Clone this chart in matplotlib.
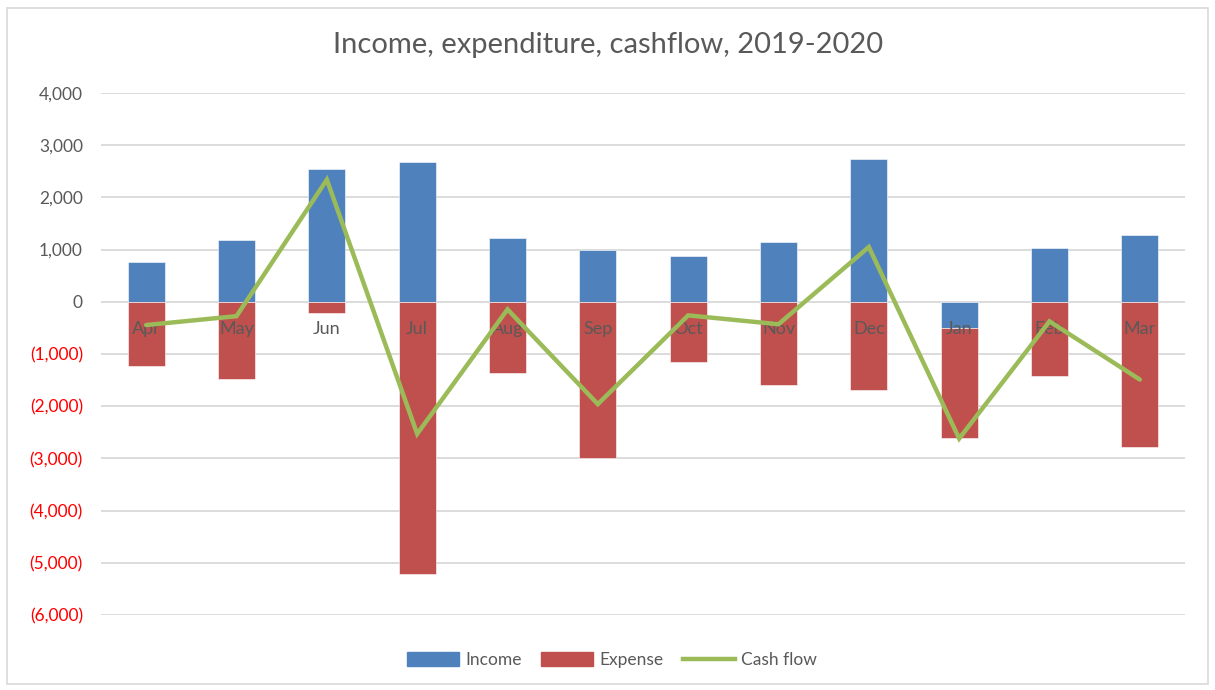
import matplotlib
matplotlib.use("Agg")
import matplotlib.pyplot as plt
import numpy as np
from matplotlib.patches import Patch, Rectangle
from matplotlib.lines import Line2D
from matplotlib.ticker import FuncFormatter, MultipleLocator

months = ["Apr", "May", "Jun", "Jul", "Aug", "Sep", "Oct", "Nov", "Dec", "Jan", "Feb", "Mar"]
income = [770, 1190, 2550, 2680, 1225, 1000, 880, 1150, 2740, -500, 1035, 1280]
expense = [-1225, -1475, -210, -5210, -1360, -2990, -1150, -1590, -1690, -2100, -1420, -2780]
cash_flow = [-445, -275, 2340, -2530, -145, -1960, -260, -430, 1050, -2620, -375, -1490]

C_INC = "#4F81BD"
C_EXP = "#C0504D"
C_CASH = "#9BBB59"
GREY = "#595959"

plt.rcParams["font.family"] = ["Lato", "DejaVu Sans"]

fig = plt.figure(figsize=(12.15, 6.9), dpi=100)
# chart border
fig.patches.append(Rectangle((7 / 1215, 1 - 684 / 690), 1201 / 1215, 676 / 690,
                             transform=fig.transFigure, fill=False,
                             edgecolor="#D9D9D9", linewidth=1.2))

ax = fig.add_axes([101 / 1215, 1 - 615 / 690, 1084 / 1215, 522 / 690])
x = np.arange(len(months))
inc = np.array(income)
exp_ = np.array(expense)

ax.bar(x, inc, width=0.41, color=C_INC, edgecolor="white", linewidth=0.4, zorder=2)
ax.bar(x, exp_, width=0.41, bottom=np.minimum(inc, 0), color=C_EXP,
       edgecolor="white", linewidth=0.4, zorder=2)

for i, m in enumerate(months):
    ax.annotate(m, (i, 0), xytext=(0, -19.5), textcoords="offset points",
                ha="center", va="center", fontsize=13, color=GREY, zorder=3)

ax.plot(x, cash_flow, color=C_CASH, linewidth=3.2, solid_capstyle="round",
        solid_joinstyle="miter", zorder=4)

ax.set_xlim(-0.5, len(months) - 0.5)
ax.set_ylim(-6000, 4000)
ax.yaxis.set_major_locator(MultipleLocator(1000))
ax.yaxis.set_major_formatter(FuncFormatter(
    lambda v, p: f"({abs(v):,.0f})" if v < 0 else f"{v:,.0f}"))
ax.set_xticks([])
ax.grid(axis="y", color="#D9D9D9", linewidth=1.3, zorder=0)
ax.set_axisbelow(True)
for s in ax.spines.values():
    s.set_visible(False)
ax.tick_params(axis="y", length=0, pad=13, labelsize=12.5, labelcolor=GREY)
for lbl, v in zip(ax.get_yticklabels(), ax.get_yticks()):
    if v < 0:
        lbl.set_color("#FF0000")

fig.text(608 / 1215, 1 - 45 / 690, "Income, expenditure, cashflow, 2019-2020",
         ha="center", va="center", fontsize=21, color=GREY)

handles = [Patch(color=C_INC), Patch(color=C_EXP),
           Line2D([0], [0], color=C_CASH, linewidth=3.2)]
fig.legend(handles, ["Income", "Expense", "Cash flow"], loc="center",
           bbox_to_anchor=(612 / 1215, 1 - 660 / 690), ncol=3, frameon=False,
           fontsize=12.5, labelcolor=GREY, handlelength=3.0, handleheight=0.9,
           columnspacing=1.1, handletextpad=0.35)

fig.savefig("out.png", dpi=100)
